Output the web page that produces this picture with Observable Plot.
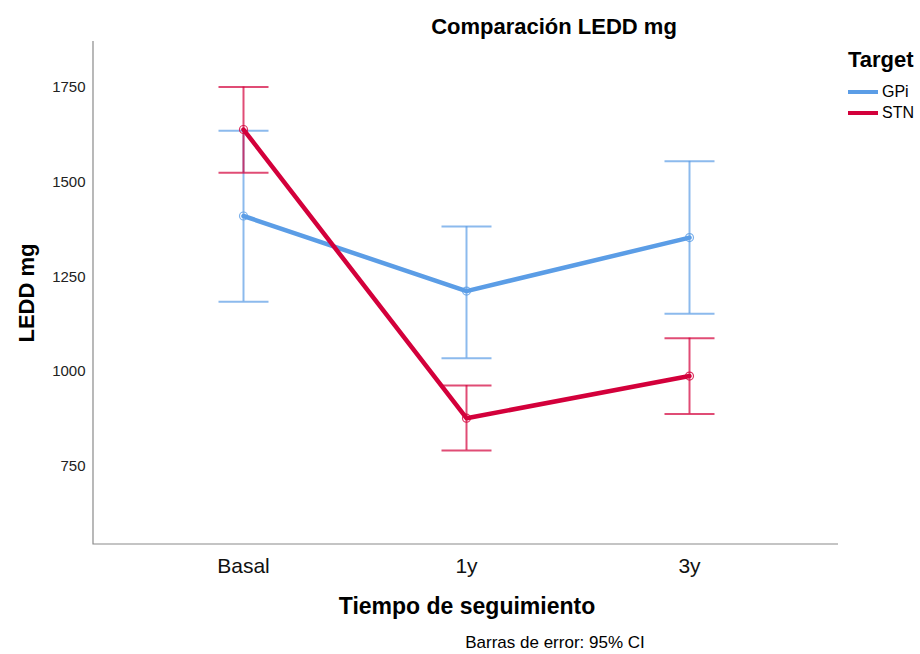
<!DOCTYPE html>
<html><head><meta charset="utf-8">
<script src="https://cdn.jsdelivr.net/npm/d3@7"></script>
<script src="https://cdn.jsdelivr.net/npm/@observablehq/plot@0.6"></script>
<style>
body{margin:0;background:#fff;font-family:"Liberation Sans",Arial,sans-serif;}
#wrap{position:relative;width:920px;height:654px;overflow:hidden;}
#wrap svg{position:absolute;left:0;top:0;}
.t{position:absolute;white-space:nowrap;color:#000;line-height:1;transform:translate(-50%,-50%);}
.b{font-weight:bold;}
.sw{position:absolute;width:30px;height:4px;}
</style></head><body><div id="wrap"></div>
<script>
const times = ["Basal", "1y", "3y"];
const targets = ["GPi", "STN"];
const gpiMean = [1410, 1212, 1353];
const gpiLow = [1184, 1035, 1152];
const gpiHigh = [1635, 1382, 1554];
const stnMean = [1638, 877, 988];
const stnLow = [1524, 792, 888];
const stnHigh = [1750, 963, 1088];
const yTicks = [750, 1000, 1250, 1500, 1750];
const colors = ["#5b9de6", "#d3003b"];

const rows = [];
times.forEach((t, i) => rows.push({time: t, target: "GPi", mean: gpiMean[i], low: gpiLow[i], high: gpiHigh[i]}));
times.forEach((t, i) => rows.push({time: t, target: "STN", mean: stnMean[i], low: stnLow[i], high: stnHigh[i]}));

const axisLines = (index, scales, values, dim) => {
  const x0 = dim.marginLeft, x1 = dim.width - dim.marginRight;
  const y0 = dim.marginTop, y1 = dim.height - dim.marginBottom;
  const p = d3.create("svg:path")
    .attr("d", `M${x0},${y0}V${y1}H${x1}`)
    .attr("fill", "none").attr("stroke", "#8a8a8a").attr("stroke-width", 1.2);
  return p.node();
};

const capSymbol = {draw(ctx) { ctx.moveTo(-25, 0); ctx.lineTo(25, 0); }};

const chart = Plot.plot({
  width: 920, height: 654,
  marginTop: 41, marginBottom: 110, marginLeft: 93, marginRight: 82,
  style: {fontFamily: "Liberation Sans, Arial, sans-serif", background: "transparent"},
  x: {type: "point", domain: times, padding: 0.665, axis: null},
  y: {domain: [544, 1870], axis: null},
  color: {domain: targets, range: colors},
  marks: [
    axisLines,
    Plot.axisY({ticks: yTicks, tickFormat: d => String(d), tickSize: 0, tickPadding: 8, fontSize: 15, label: null, color: "#222"}),
    Plot.axisX({tickSize: 0, tickPadding: 14, fontSize: 21, label: null, color: "#111"}),
    Plot.ruleX(rows, {x: "time", y1: "low", y2: "high", stroke: "target", strokeWidth: 2, strokeOpacity: 0.7}),
    Plot.dot(rows, {x: "time", y: "low", symbol: capSymbol, r: 5, fill: "none", stroke: "target", strokeWidth: 2, strokeOpacity: 0.7}),
    Plot.dot(rows, {x: "time", y: "high", symbol: capSymbol, r: 5, fill: "none", stroke: "target", strokeWidth: 2, strokeOpacity: 0.7}),
    Plot.line(rows, {x: "time", y: "mean", z: "target", stroke: "target", strokeWidth: 4.5}),
    Plot.dot(rows, {x: "time", y: "mean", r: 4, stroke: "target", fill: "none", strokeWidth: 1.2, strokeOpacity: 0.8})
  ]
});

const wrap = document.getElementById("wrap");
wrap.appendChild(chart);

function addText(txt, x, y, size, bold, extra) {
  const d = document.createElement("div");
  d.className = "t" + (bold ? " b" : "");
  d.textContent = txt;
  d.style.left = x + "px"; d.style.top = y + "px"; d.style.fontSize = size + "px";
  if (extra) d.style.transform = extra;
  wrap.appendChild(d);
  return d;
}
addText("Comparación LEDD mg", 554, 27, 22, true);
addText("LEDD mg", 27, 293, 22, true, "translate(-50%,-50%) rotate(-90deg)");
addText("Tiempo de seguimiento", 467, 606, 23, true);
addText("Barras de error: 95% CI", 555, 642, 17, false);

// legend
addText("Target", 848, 60, 22, true, "translate(0,-50%)");
targets.forEach((t, i) => {
  const yc = 92 + i * 21;
  const s = document.createElement("div");
  s.className = "sw";
  s.style.left = "848px"; s.style.top = (yc - 2) + "px"; s.style.background = colors[i];
  wrap.appendChild(s);
  addText(t, 882, yc, 16, false, "translate(0,-50%)");
});
</script></body></html>
